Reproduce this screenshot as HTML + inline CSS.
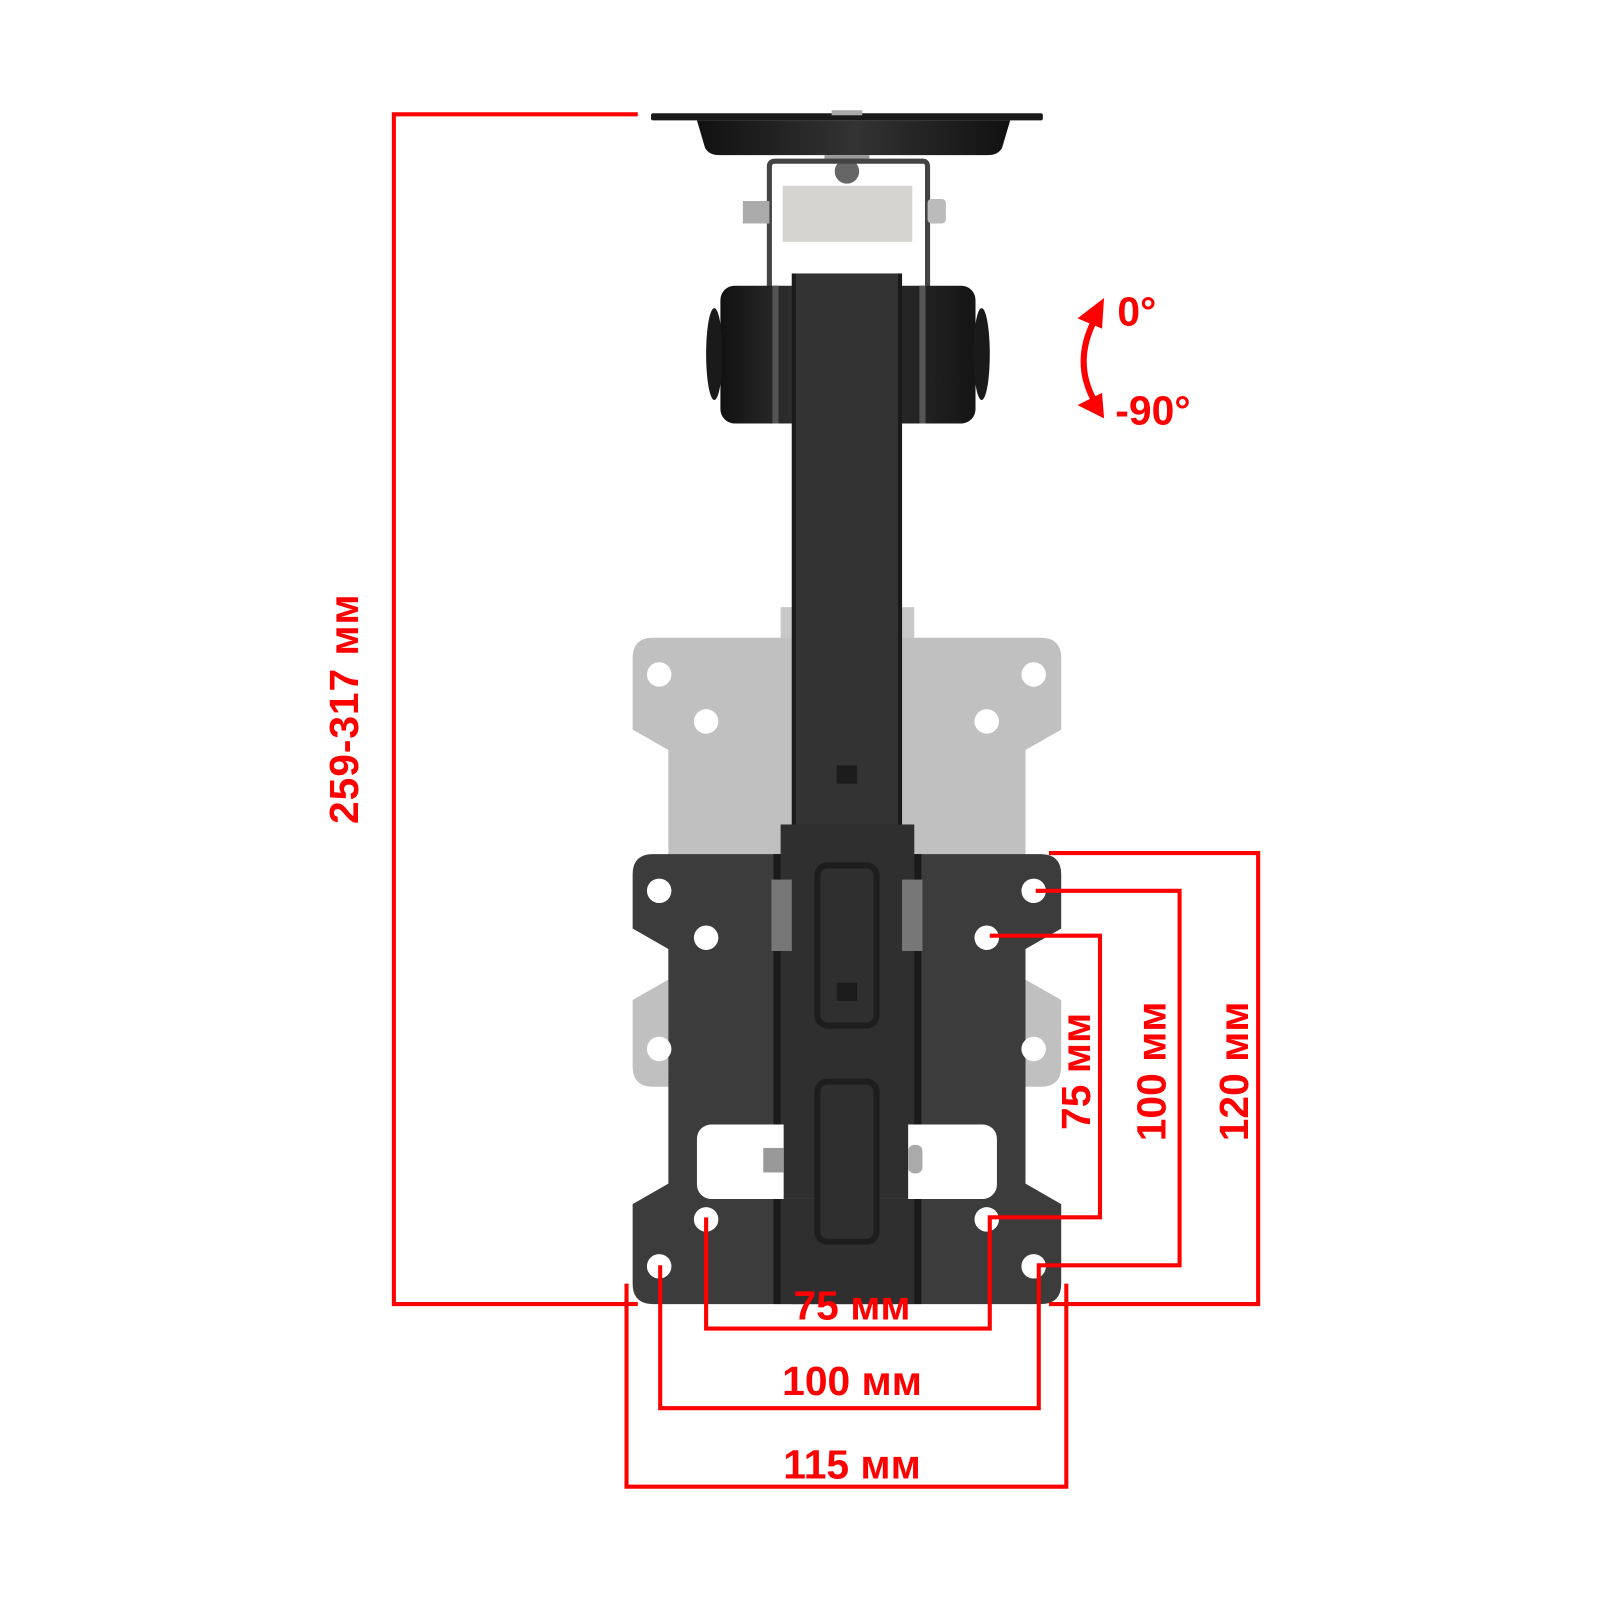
<!DOCTYPE html>
<html><head><meta charset="utf-8"><style>html,body{margin:0;padding:0;background:#fff}svg{display:block}</style></head>
<body>
<svg width="1600" height="1600" viewBox="0 0 1600 1600" xmlns="http://www.w3.org/2000/svg">
<defs>
<linearGradient id="cyl" x1="0" x2="1"><stop offset="0" stop-color="#111"/><stop offset="0.4" stop-color="#3a3a3a"/><stop offset="1" stop-color="#151515"/></linearGradient>
<linearGradient id="dish" x1="0" x2="1"><stop offset="0" stop-color="#111"/><stop offset="0.5" stop-color="#333"/><stop offset="1" stop-color="#111"/></linearGradient>
</defs>
<g transform="scale(1.0204)">
<!-- ceiling plate -->
<rect x="638" y="111" width="384" height="7" rx="2" fill="#1a1a1a"/>
<path d="M683 118 H990 L982 145 Q978 152 968 152 H705 Q695 152 691 145 Z" fill="url(#dish)"/>
<rect x="815" y="108" width="30" height="5" fill="#aaa"/>
<rect x="808" y="152" width="44" height="8" fill="#999"/>
<circle cx="830" cy="168" r="12" fill="#666"/>
<!-- U bracket -->
<path d="M754 410 V163 Q754 158 760 158 H904 Q909 158 909 163 V410" fill="none" stroke="#444" stroke-width="5"/>
<rect x="767" y="182" width="127" height="55" fill="#d6d4d0"/>
<rect x="728" y="197" width="26" height="22" fill="#aaa"/>
<rect x="909" y="195" width="18" height="24" rx="4" fill="#bbb"/>
<!-- grey plate -->
<rect x="765" y="595" width="131" height="240" fill="#c8c8c8"/>
<path d="M640 625 H1020 Q1040 625 1040 645 V715 L1005 735 V1045 Q1005 1065 985 1065 H675 Q655 1065 655 1045 V735 L620 715 V645 Q620 625 640 625 Z" fill="#c0c0c0"/>
<path d="M620 980 L655 960 V1065 H640 Q620 1065 620 1045 Z M1040 980 L1005 960 V1065 H1020 Q1040 1065 1040 1045 Z" fill="#c0c0c0"/>
<g fill="#fff"><circle cx="646" cy="661" r="12"/><circle cx="1013" cy="661" r="12"/><circle cx="692" cy="707" r="12"/><circle cx="967" cy="707" r="12"/></g>
<!-- joint cylinders -->
<rect x="706" y="280" width="250" height="135" rx="14" fill="url(#cyl)"/>
<ellipse cx="700" cy="347" rx="8" ry="45" fill="#1a1a1a"/>
<ellipse cx="962" cy="347" rx="8" ry="45" fill="#1a1a1a"/>
<rect x="757" y="280" width="6" height="135" fill="#555"/>
<rect x="901" y="280" width="6" height="135" fill="#555"/>
<!-- arm -->
<rect x="776" y="268" width="108" height="1010" fill="#333"/>
<rect x="776" y="268" width="4" height="1010" fill="#1a1a1a"/>
<rect x="880" y="268" width="4" height="1010" fill="#1a1a1a"/>
<rect x="820" y="750" width="20" height="18" fill="#1c1c1c"/>
<!-- dark plate -->
<path d="M640 837 H1020 Q1040 837 1040 857 V910 L1005 930 V1160 L1040 1180 V1258 Q1040 1278 1020 1278 H640 Q620 1278 620 1258 V1180 L655 1160 V930 L620 910 V857 Q620 837 640 837 Z" fill="#3c3c3c"/>
<rect x="765" y="808" width="131" height="470" fill="#2f2f2f"/>
<rect x="758" y="837" width="7" height="441" fill="#1a1a1a"/>
<rect x="896" y="837" width="7" height="441" fill="#1a1a1a"/>
<rect x="801" y="848" width="58" height="157" rx="10" fill="none" stroke="#1e1e1e" stroke-width="6"/>
<rect x="820" y="963" width="20" height="18" fill="#1c1c1c"/>
<rect x="683" y="1102" width="294" height="73" rx="14" fill="#fff"/>
<rect x="768" y="1102" width="122" height="73" fill="#2f2f2f"/>
<rect x="801" y="1060" width="58" height="157" rx="10" fill="#2f2f2f" stroke="#1e1e1e" stroke-width="6"/>
<rect x="748" y="1125" width="20" height="24" fill="#999"/>
<rect x="890" y="1122" width="14" height="28" rx="6" fill="#aaa"/>
<rect x="756" y="862" width="20" height="70" fill="#777"/>
<rect x="884" y="862" width="20" height="70" fill="#777"/>
<g fill="#fff"><circle cx="646" cy="873" r="12"/><circle cx="1013" cy="873" r="12"/><circle cx="692" cy="919" r="12"/><circle cx="967" cy="919" r="12"/><circle cx="646" cy="1028" r="12"/><circle cx="1013" cy="1028" r="12"/><circle cx="692" cy="1195" r="12"/><circle cx="967" cy="1195" r="12"/><circle cx="646" cy="1241" r="12"/><circle cx="1013" cy="1241" r="12"/></g>
<!-- red dimensions -->
<g fill="none" stroke="#f00" stroke-width="4">
<polyline points="625,112 386,112 386,1278 625,1278"/>
<polyline points="1028,836 1233,836 1233,1278 1028,1278"/>
<polyline points="1015,873 1156,873 1156,1240 1018,1240 1018,1380 647,1380 647,1240"/>
<polyline points="970,917 1078,917 1078,1193 970,1193 970,1302 692,1302 692,1193"/>
<polyline points="614,1258 614,1457 1045,1457 1045,1258"/>
<path d="M1072 315 Q1052 355 1072 392" stroke-width="6"/>
</g>
<path d="M1082 292 L1056 312 L1080 322 Z" fill="#f00"/>
<path d="M1082 410 L1056 397 L1080 385 Z" fill="#f00"/>
<g fill="#f00" font-family="Liberation Sans, sans-serif" font-weight="bold" font-size="40">
<text x="1095" y="319">0°</text>
<text x="1093" y="416">-90°</text>
<text x="835" y="1293" text-anchor="middle">75 мм</text>
<text x="835" y="1367" text-anchor="middle">100 мм</text>
<text x="835" y="1449" text-anchor="middle">115 мм</text>
<text transform="translate(351,695) rotate(-90)" text-anchor="middle" textLength="225">259-317 мм</text>
<text transform="translate(1068,1050) rotate(-90)" text-anchor="middle">75 мм</text>
<text transform="translate(1142,1050) rotate(-90)" text-anchor="middle">100 мм</text>
<text transform="translate(1223,1050) rotate(-90)" text-anchor="middle">120 мм</text>
</g>
</g>
</svg>
</body></html>
